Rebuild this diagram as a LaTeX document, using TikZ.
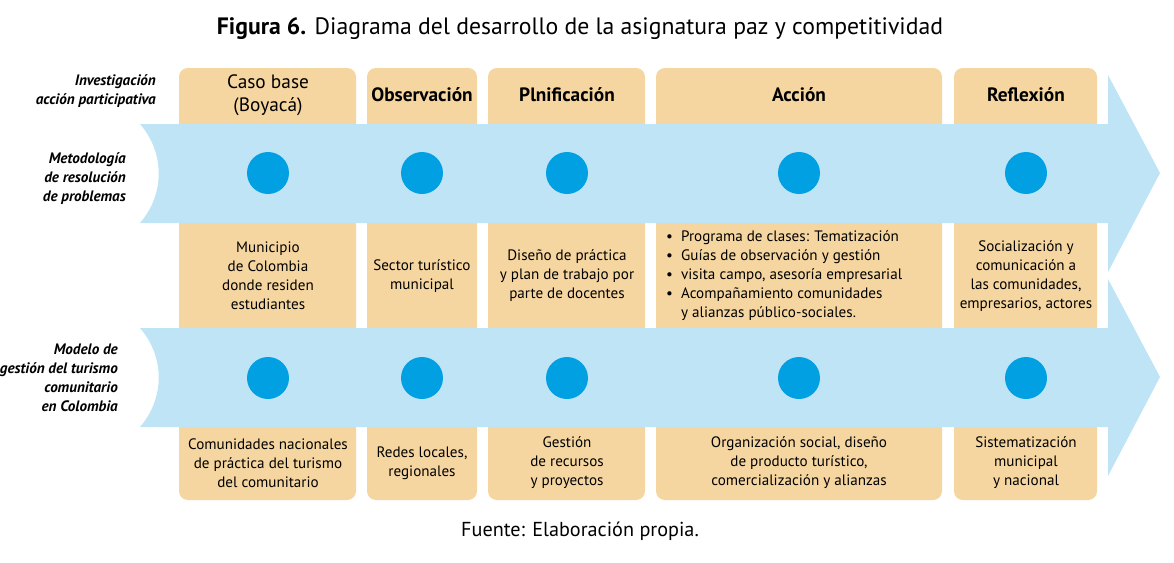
\documentclass[tikz,border=0pt]{standalone}
\usepackage{fontspec}
\setmainfont{PT Sans}
\usetikzlibrary{positioning}
\definecolor{tan}{RGB}{246,214,160}
\definecolor{sky}{RGB}{190,228,246}
\definecolor{dot}{RGB}{0,160,227}
\tikzset{
  col/.style={fill=tan, rounded corners=5pt, draw=none},
  head/.style={font=\fontsize{11}{13}\selectfont, align=center},
  body/.style={font=\fontsize{8.6}{10.8}\selectfont, align=center},
  side/.style={font=\fontsize{8.6}{10.8}\selectfont\bfseries\itshape, align=right, anchor=east},
  spot/.style={circle, fill=dot, minimum size=0.84cm, inner sep=0pt},
}
\begin{document}
\begin{tikzpicture}[x=0.02cm,y=-0.02cm]
  \useasboundingbox (0,0) rectangle (1174,562);
  % columns
  \foreach \a/\b in {179/356, 367/477, 488/645, 656/942, 954/1097}
    \fill[col] (\a,68) rectangle (\b,500);
  % arrows
  \foreach \t in {124, 328} {
    \fill[sky] (140,\t) -- (1108,\t) -- (1108,\t-49) -- (1160,\t+49) -- (1108,\t+148)
      -- (1108,\t+99) -- (140,\t+99) .. controls (165,\t+70) and (165,\t+29) .. (140,\t);
  }
  % dots
  \foreach \x [count=\i] in {268, 422, 567, 799, 1026} {
    \node[spot] (m\i) at (\x,173) {};
    \node[spot] (g\i) at (\x,378) {};
  }
  % title
  \node (title) at (580,29) {\fontsize{13.5}{16}\selectfont\textbf{Figura 6.} Diagrama del desarrollo de la asignatura paz y competitividad};
  \node (src) at (580,531) {\fontsize{11.5}{14}\selectfont Fuente: Elaboración propia.};
  % side labels
  \node[side] (iap) at (162,91) {Investigación\\acción participativa};
  \node[side] (mrp) at (132,179) {Metodología\\de resolución\\de problemas};
  \node[side] (mtc) at (124,378) {Modelo de\\gestión del turismo\\comunitario\\en Colombia};
  % headers
  \node[head] (h1) at (268,95) {Caso base\\(Boyacá)};
  \node[head] (h2) at (422,95) {\textbf{Observación}};
  \node[head] (h3) at (567,95) {\textbf{Plnificación}};
  \node[head] (h4) at (799,95) {\textbf{Acción}};
  \node[head] (h5) at (1026,95) {\textbf{Reflexión}};
  % middle row
  \node[body] (b1) at (268,276) {Municipio\\de Colombia\\donde residen\\estudiantes};
  \node[body] (b2) at (422,276) {Sector turístico\\municipal};
  \node[body] (b3) at (567,276) {Diseño de práctica\\y plan de trabajo por\\parte de docentes};
  \node[body, align=left, anchor=west] (b4) at (660,276) {• \ Programa de clases:  Tematización\\• \ Guías de observación y gestión\\• \ visita campo, asesoría empresarial\\• \ Acompañamiento comunidades\\\phantom{• \ }y alianzas público-sociales.};
  \node[body] (b5) at (1026,276) {Socialización y\\comunicación a\\las comunidades,\\empresarios, actores};
  % bottom row
  \node[body] (c1) at (268,463) {Comunidades nacionales\\de práctica del turismo\\del comunitario};
  \node[body] (c2) at (422,463) {Redes locales,\\regionales};
  \node[body] (c3) at (567,463) {Gestión\\de recursos\\y proyectos};
  \node[body] (c4) at (799,463) {Organización social, diseño\\de producto turístico,\\comercialización y alianzas};
  \node[body] (c5) at (1026,463) {Sistematización\\municipal\\y nacional};
\end{tikzpicture}
\end{document}
